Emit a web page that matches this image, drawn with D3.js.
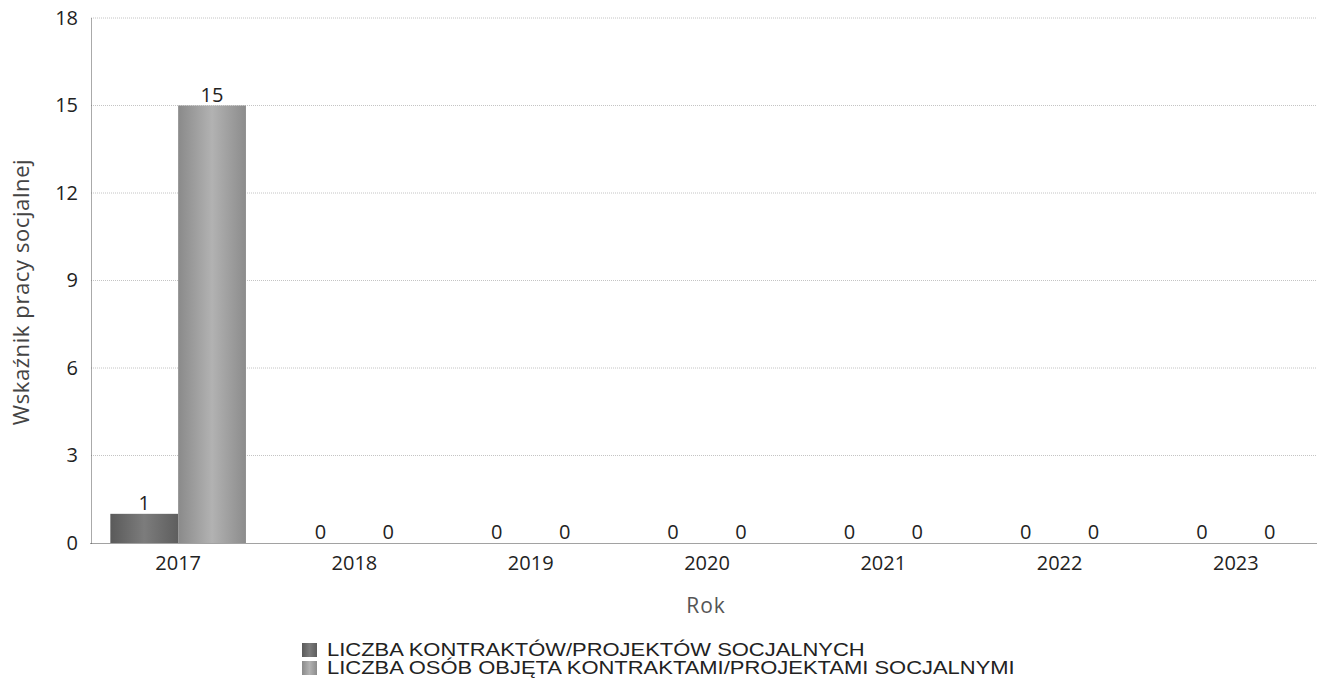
<!DOCTYPE html>
<html><head><meta charset="utf-8">
<script src="https://cdn.jsdelivr.net/npm/d3@7"></script>
<style>body{margin:0;background:#fff;} svg{display:block;}</style>
</head><body>
<svg id="chart" width="1317" height="692"></svg>
<script>
const years = ["2017","2018","2019","2020","2021","2022","2023"];
const seriesNames = ["LICZBA KONTRAKTÓW/PROJEKTÓW SOCJALNYCH","LICZBA OSÓB OBJĘTA KONTRAKTAMI/PROJEKTAMI SOCJALNYMI"];
const contracts = [1,0,0,0,0,0,0];
const persons = [15,0,0,0,0,0,0];
const yTicks = [0,3,6,9,12,15,18];
const seriesValues = [contracts, persons];

const svg = d3.select("#chart");
const m = {left:91, top:18, bottom:543, right:1324};
const x = d3.scaleBand().domain(years).range([m.left-1, m.right]).paddingInner(0).paddingOuter(0);
const xs = d3.scaleBand().domain([0,1]).range([0, x.bandwidth()]).paddingInner(0).paddingOuter(0.3);
const y = d3.scaleLinear().domain([0,18]).range([m.bottom, m.top]);

const defs = svg.append("defs");
const cols = [["#5a5a5a","#7c7c7c","#5e5e5e"],["#8a8a8a","#b2b2b2","#8c8c8c"]];
cols.forEach((c,i)=>{
  const g = defs.append("linearGradient").attr("id","g"+i).attr("x1","0").attr("x2","1").attr("y1","0").attr("y2","0");
  g.append("stop").attr("offset","0%").attr("stop-color",c[0]);
  g.append("stop").attr("offset","50%").attr("stop-color",c[1]);
  g.append("stop").attr("offset","100%").attr("stop-color",c[2]);
});

// grid
svg.append("g").selectAll("line").data(yTicks.filter(d=>d>0)).join("line")
  .attr("x1",m.left).attr("x2",1317).attr("y1",d=>y(d)).attr("y2",d=>y(d))
  .attr("stroke","#c4c4c4").attr("stroke-dasharray","1,1");

// y axis
const ya = svg.append("g").attr("transform",`translate(${m.left},0)`).call(d3.axisLeft(y).tickValues(yTicks).tickSize(0).tickPadding(13));
ya.select(".domain").attr("stroke","#555").attr("stroke-dasharray","1,1");
ya.selectAll("text").attr("font-family","Open Sans").attr("font-size",20).attr("fill","#222");

// bars
const groups = svg.append("g").selectAll("g").data(years).join("g").attr("transform",d=>`translate(${x(d)},0)`);
groups.selectAll("rect").data((d,i)=>seriesValues.map((s,k)=>({k,v:s[i]}))).join("rect")
  .attr("x",d=>xs(d.k)).attr("width",xs.bandwidth())
  .attr("y",d=>y(d.v)).attr("height",d=>y(0)-y(d.v))
  .attr("fill",d=>`url(#g${d.k})`);
groups.selectAll("text").data((d,i)=>seriesValues.map((s,k)=>({k,v:s[i]}))).join("text")
  .attr("x",d=>xs(d.k)+xs.bandwidth()/2).attr("y",d=>y(d.v)-4)
  .attr("text-anchor","middle").attr("font-family","Open Sans").attr("font-size",20).attr("fill","#222")
  .text(d=>d.v);

// x axis
const xa = svg.append("g").attr("transform",`translate(0,${m.bottom})`).call(d3.axisBottom(x).tickSize(0));
xa.select(".domain").attr("stroke","#444").attr("stroke-dasharray","1,1");
xa.selectAll("text").attr("dy",null).attr("y",27).attr("font-family","Open Sans").attr("font-size",20).attr("fill","#222");

// axis titles
svg.append("text").attr("x",706).attr("y",613).attr("text-anchor","middle")
  .attr("font-family","Open Sans").attr("font-size",21).attr("letter-spacing",1).attr("fill","#555").text("Rok");
svg.append("text").attr("transform","translate(29,292) rotate(-90)").attr("text-anchor","middle")
  .attr("font-family","Open Sans").attr("font-size",22).attr("letter-spacing",0.6).attr("fill","#444").text("Wskaźnik pracy socjalnej");

// legend
const lg = svg.append("g").selectAll("g").data(seriesNames).join("g").attr("transform",(d,i)=>`translate(302,${643+i*18})`);
lg.append("rect").attr("width",15).attr("height",14).attr("fill",(d,i)=>`url(#g${i})`);
lg.append("text").attr("transform","translate(25,13) scale(1.22,1)").attr("font-family","Liberation Sans").attr("font-size",18).attr("fill","#222").text(d=>d);
</script>
</body></html>
